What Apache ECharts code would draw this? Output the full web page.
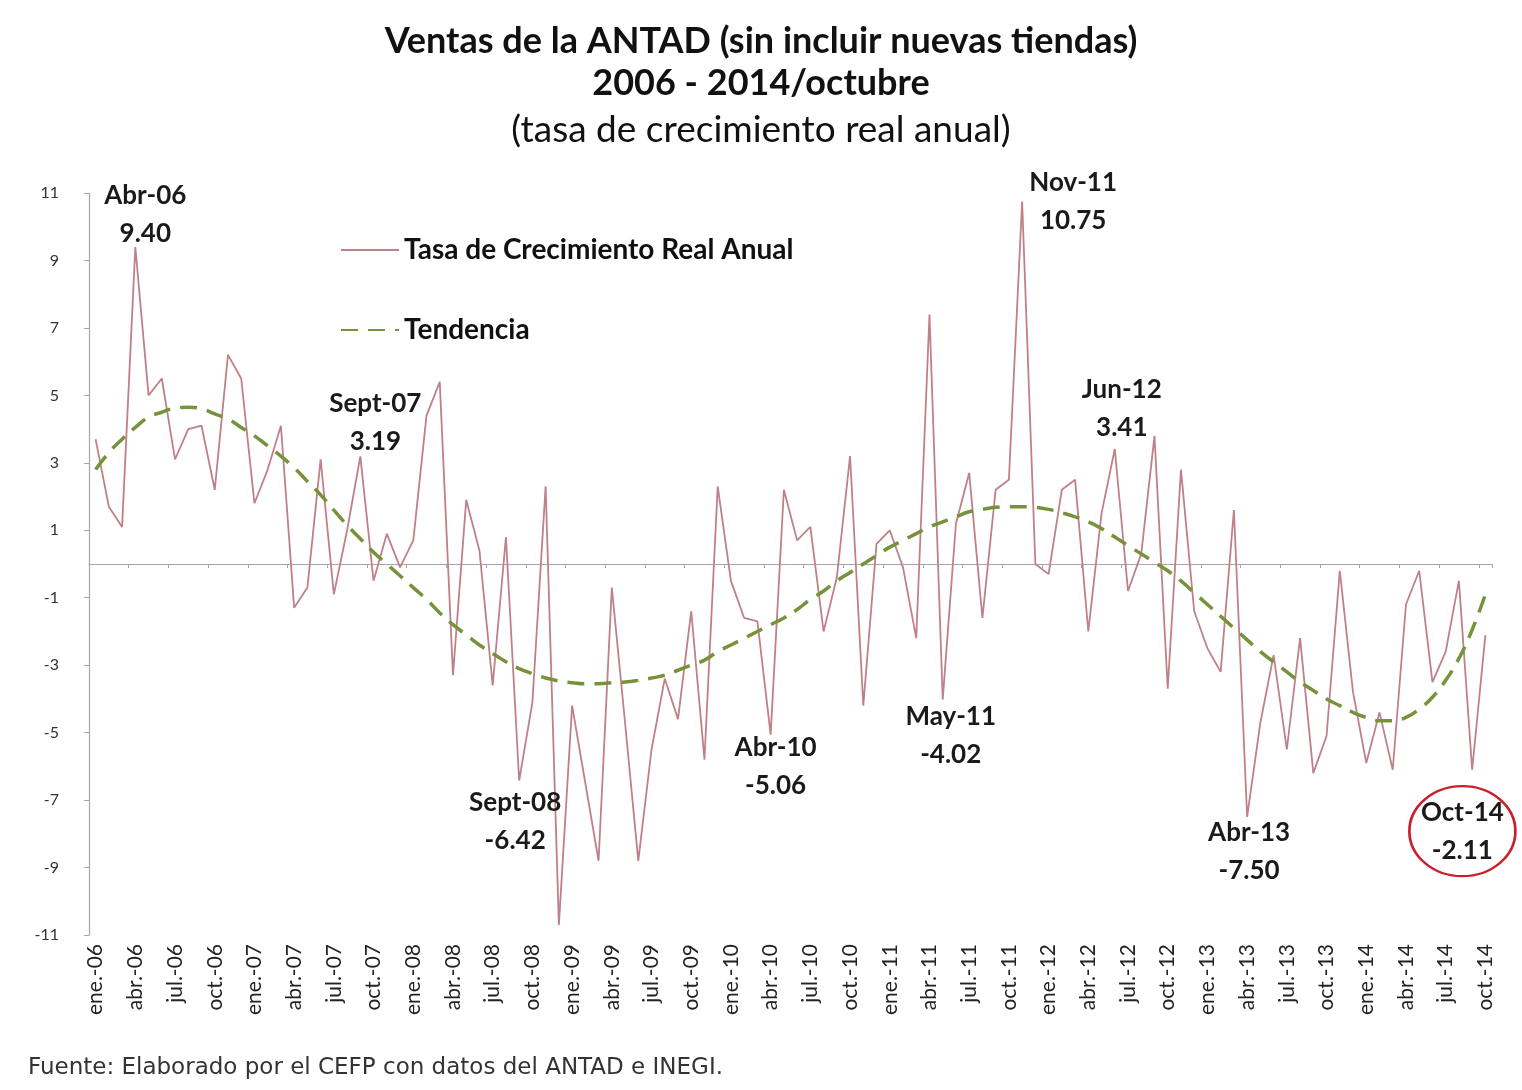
<!DOCTYPE html>
<html><head><meta charset="utf-8">
<script src="https://cdn.jsdelivr.net/npm/echarts@6/dist/echarts.min.js"></script>
<style>html,body{margin:0;padding:0;background:#fff}#c{width:1522px;height:1090px}</style>
</head><body><div id="c"></div>
<script>
// ---- DATA ----
const monthAbbr = ['ene.','feb.','mar.','abr.','may.','jun.','jul.','ago.','sep.','oct.','nov.','dic.'];
const years = ['06','07','08','09','10','11','12','13','14'];
const lastMonthOfLastYear = 9; // octubre 2014

const tasaCrecimiento = [
  3.7, 1.7, 1.1, 9.40, 5.0, 5.5, 3.1, 4.0, 4.1, 2.2, 6.2, 5.5,
  1.8, 2.8, 4.1, -1.3, -0.7, 3.1, -0.9, 1.0, 3.19, -0.5, 0.9, -0.1,
  0.7, 4.4, 5.4, -3.3, 1.9, 0.4, -3.6, 0.8, -6.42, -4.1, 2.3, -10.7,
  -4.2, -6.5, -8.8, -0.7, -4.7, -8.8, -5.5, -3.4, -4.6, -1.4, -5.8, 2.3,
  -0.5, -1.6, -1.7, -5.06, 2.2, 0.7, 1.1, -2.0, -0.4, 3.2, -4.2, 0.6,
  1.0, -0.1, -2.2, 7.4, -4.02, 1.2, 2.7, -1.6, 2.2, 2.5, 10.75, 0.0,
  -0.3, 2.2, 2.5, -2.0, 1.5, 3.41, -0.8, 0.3, 3.8, -3.7, 2.8, -1.4,
  -2.5, -3.2, 1.6, -7.50, -4.7, -2.7, -5.5, -2.2, -6.2, -5.1, -0.2, -3.8,
  -5.9, -4.4, -6.1, -1.2, -0.2, -3.5, -2.6, -0.5, -6.1, -2.11
];

const tendencia = [
  2.8, 3.3, 3.7, 4.05, 4.35, 4.5, 4.62, 4.65, 4.6, 4.45, 4.3, 4.05,
  3.8, 3.5, 3.2, 2.85, 2.45, 2.05, 1.6, 1.15, 0.75, 0.35, 0.0, -0.35,
  -0.7, -1.05, -1.45, -1.8, -2.1, -2.4, -2.65, -2.9, -3.1, -3.25, -3.38, -3.47,
  -3.52, -3.55, -3.55, -3.52, -3.5, -3.45, -3.38, -3.3, -3.15, -3.0, -2.85, -2.6,
  -2.4, -2.2, -2.0, -1.8, -1.6, -1.35, -1.05, -0.8, -0.5, -0.25, 0.0, 0.25,
  0.5, 0.7, 0.9, 1.1, 1.25, 1.4, 1.55, 1.62, 1.68, 1.7, 1.7, 1.68,
  1.62, 1.52, 1.4, 1.25, 1.05, 0.8, 0.55, 0.3, 0.05, -0.2, -0.5, -0.85,
  -1.2, -1.55, -1.9, -2.25, -2.6, -2.9, -3.2, -3.5, -3.75, -4.0, -4.2, -4.4,
  -4.55, -4.65, -4.65, -4.55, -4.3, -3.95, -3.45, -2.8, -1.95, -0.9
];

const annotationNames = ['Abr-06','Sept-07','Sept-08','Abr-10','May-11','Nov-11','Jun-12','Abr-13','Oct-14'];
const annotationCategories = ['abr.-06','sep.-07','sep.-08','abr.-10','may.-11','nov.-11','jun.-12','abr.-13','oct.-14'];
const annotationValues = [9.40, 3.19, -6.42, -5.06, -4.02, 10.75, 3.41, -7.50, -2.11];

const yTickMin = -11, yTickMax = 11, yTickStep = 2;

const titleLine1 = 'Ventas de la ANTAD (sin incluir nuevas tiendas)';
const titleLine2 = '2006 - 2014/octubre';
const titleLine3 = '(tasa de crecimiento real anual)';
const seriesNames = ['Tasa de Crecimiento Real Anual', 'Tendencia'];
const sourceNote = 'Fuente: Elaborado por el CEFP con datos del ANTAD e INEGI.';

// ---- BUILD ----
const categories = [];
years.forEach((y, yi) => monthAbbr.forEach((m, mi) => {
  if (yi < years.length - 1 || mi <= lastMonthOfLastYear) categories.push(m + '-' + y);
}));

// layout offsets (pixels) for annotation boxes relative to their points
const annotationOffsets = [[10,-32],[15,-34],[-4,41],[5,32],[8,36],[51,0],[7,-40],[2,35],[-23,196]];
const circled = 'Oct-14';

const FONT = 'Lato, "Open Sans", sans-serif';
const markData = annotationNames.map((n, k) => {
  const isCircle = n === circled;
  return {
    coord: [annotationCategories[k], annotationValues[k]],
    value: annotationValues[k],
    symbol: isCircle ? 'path://M0,50 A50,50 0 1,1 100,50 A50,50 0 1,1 0,50 Z' : 'rect',
    symbolSize: isCircle ? [106, 90] : [90, 70],
    symbolOffset: annotationOffsets[k],
    itemStyle: isCircle
      ? { color: 'rgba(255,255,255,0)', borderColor: '#c8202c', borderWidth: 2.5 }
      : { color: 'rgba(255,255,255,0)', borderWidth: 0 },
    label: {
      show: true, position: 'inside',
      formatter: n + '\n' + annotationValues[k].toFixed(2),
      fontFamily: FONT, fontWeight: 'bold', fontSize: 26, lineHeight: 38, color: '#1a1a1a'
    }
  };
});

const chart = echarts.init(document.getElementById('c'), null, { renderer: 'canvas' });
chart.setOption({
  backgroundColor: '#ffffff',
  animation: false,
  title: [
    { text: titleLine1, left: 'center', top: 18, textStyle: { fontFamily: FONT, fontWeight: 'bold', fontSize: 36, color: '#111' } },
    { text: titleLine2, left: 'center', top: 60, textStyle: { fontFamily: FONT, fontWeight: 'bold', fontSize: 36, color: '#111' } },
    { text: titleLine3, left: 'center', top: 107, textStyle: { fontFamily: FONT, fontWeight: 'normal', fontSize: 37, color: '#111' } }
  ],
  legend: {
    orient: 'vertical', left: 335, top: 228, itemWidth: 58, itemHeight: 14, itemGap: 46,
    itemStyle: { color: 'rgba(0,0,0,0)', borderColor: 'rgba(0,0,0,0)', borderWidth: 0 },
    textStyle: { fontFamily: FONT, fontWeight: 'bold', fontSize: 28, color: '#111', lineHeight: 34 },
    data: seriesNames
  },
  grid: { left: 89, right: 30, top: 193, bottom: 155, containLabel: false },
  xAxis: [
    {
      type: 'category', data: categories, boundaryGap: true,
      axisLine: { show: false, onZero: false }, axisTick: { show: false },
      axisLabel: { interval: 2, rotate: 90, fontFamily: FONT, fontSize: 21, color: '#222', margin: 9 }
    },
    {
      type: 'category', data: categories, boundaryGap: true, position: 'bottom',
      axisLine: { show: true, onZero: true, lineStyle: { color: '#a6a6a6', width: 1 } },
      axisTick: { show: true, interval: 2, length: 4, lineStyle: { color: '#a6a6a6' } },
      axisLabel: { show: false }
    }
  ],
  yAxis: {
    type: 'value', min: yTickMin, max: yTickMax, interval: yTickStep,
    axisLine: { show: true, onZero: false, lineStyle: { color: '#a6a6a6', width: 1.2 } },
    axisTick: { show: true, length: 5, lineStyle: { color: '#a6a6a6' } },
    splitLine: { show: false },
    axisLabel: { fontFamily: FONT, fontSize: 16, color: '#333', margin: 30 }
  },
  series: [
    {
      name: seriesNames[0], type: 'line', data: tasaCrecimiento, xAxisIndex: 0,
      symbol: 'none', lineStyle: { color: '#c08088', width: 1.8 }, itemStyle: { color: '#c08088' },
      z: 3,
      markPoint: { symbolKeepAspect: false, data: markData, z: 5 }
    },
    {
      name: seriesNames[1], type: 'line', data: tendencia, xAxisIndex: 0, smooth: true,
      symbol: 'none', lineStyle: { color: '#76933c', width: 3.5, type: [17, 10] }, itemStyle: { color: '#76933c' },
      z: 4
    }
  ],
  graphic: [
    { type: 'text', left: 28, top: 1057, style: { text: sourceNote, font: '23px "DejaVu Sans", sans-serif', fill: '#333' } }
  ]
});
</script></body></html>
